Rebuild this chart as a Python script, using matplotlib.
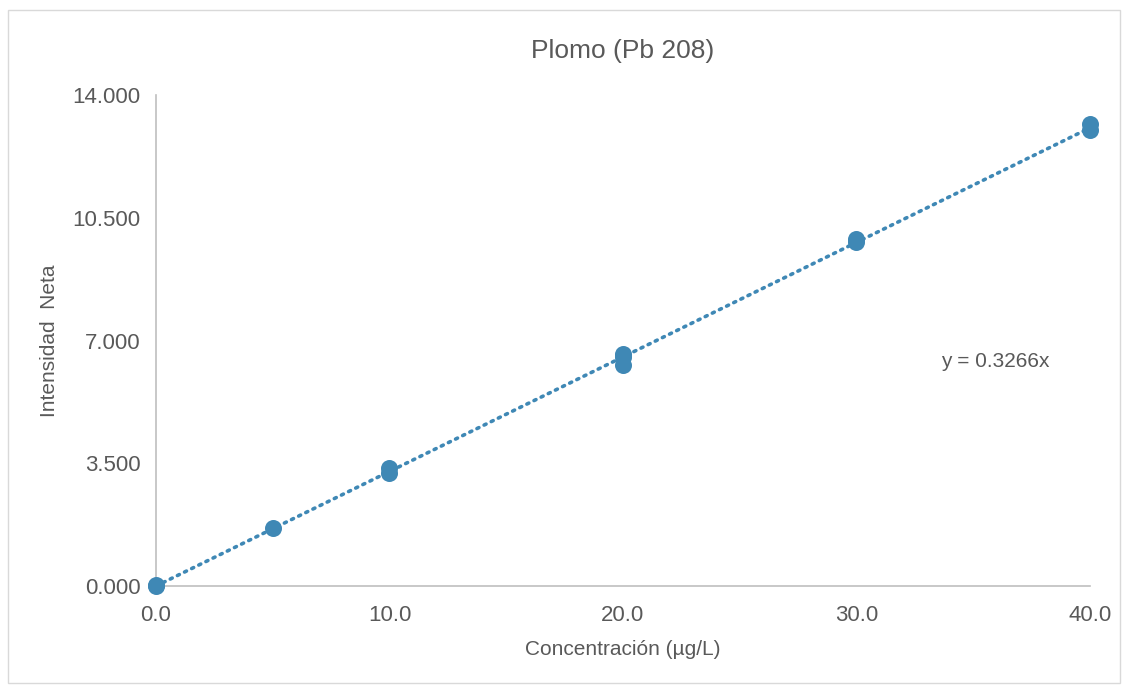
import numpy as np
import matplotlib.pyplot as plt
from matplotlib.patches import Rectangle

plt.rcParams['font.family'] = ['Liberation Sans', 'DejaVu Sans']

# datos de calibracion
conc = [0, 0, 5, 10, 10, 20, 20, 20, 30, 30, 40, 40]
intens = [0.0, 0.02, 1.65, 3.36, 3.22, 6.62, 6.52, 6.29, 9.90, 9.80, 13.17, 13.00]
slope = 0.3266
x_ticks = [0, 10, 20, 30, 40]
y_ticks = [0, 3.5, 7, 10.5, 14]

color = '#3f88b5'
gray = '#595959'

fig = plt.figure(figsize=(11.28, 6.85), dpi=100)
fig.patches.append(Rectangle((8 / 1128, 0.003), 1112 / 1128, 0.982, transform=fig.transFigure,
                             fill=False, edgecolor='#d9d9d9', linewidth=1))
ax = fig.add_axes([0.1383, 0.1445, 0.8280, 0.7168])

xl = np.array([0, 40])
ax.plot(xl, slope * xl, linestyle=(0, (0.6, 1.6)), color=color, linewidth=2.6, dash_capstyle='round', zorder=2)
ax.scatter(conc, intens, s=150, color=color, zorder=3, linewidths=0, clip_on=False)

ax.set_xlim(0, 40)
ax.set_ylim(0, 14)
ax.set_xticks(x_ticks)
ax.set_yticks(y_ticks)
ax.set_xticklabels(['%.1f' % v for v in x_ticks])
ax.set_yticklabels(['%.3f' % v for v in y_ticks])
ax.tick_params(axis='both', length=0, labelsize=16, colors=gray)
ax.tick_params(axis='x', pad=14)
ax.tick_params(axis='y', pad=11)
for s in ['top', 'right']:
    ax.spines[s].set_visible(False)
for s in ['left', 'bottom']:
    ax.spines[s].set_color('#bfbfbf')
    ax.spines[s].set_linewidth(1.2)
    ax.spines[s].set_zorder(1)

ax.set_title('Plomo (Pb 208)', fontsize=19, color=gray, pad=27)
ax.set_xlabel('Concentración (µg/L)', fontsize=15, color=gray, labelpad=10)
ax.set_ylabel('Intensidad  Neta', fontsize=15, color=gray, labelpad=10)
ax.text(33.6, 6.39, 'y = 0.3266x', fontsize=15, color=gray, ha='left', va='center')

fig.savefig('out.png', dpi=100)
